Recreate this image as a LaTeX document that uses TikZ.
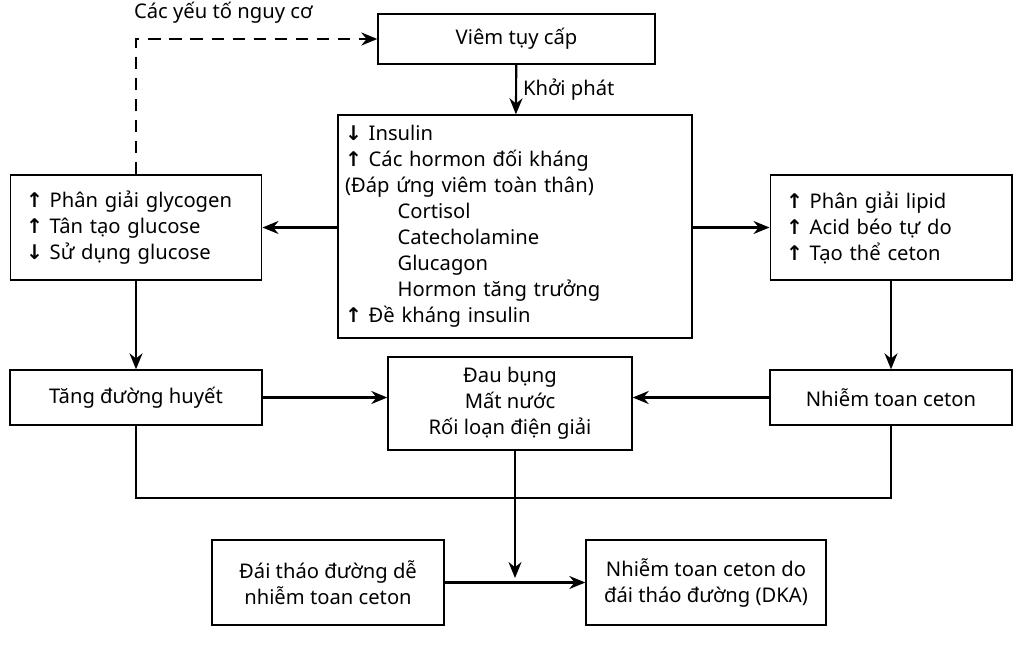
\documentclass[tikz,border=0pt]{standalone}
\usepackage{fontspec}
\setmainfont{Noto Sans}
\newfontfamily\muiten{DejaVu Sans}
\usetikzlibrary{arrows.meta,positioning}
\newcommand{\len}{{\muiten\bfseries ↑}\ }
\newcommand{\xuong}{{\muiten\bfseries ↓}\ }
\newcommand{\thut}{\hspace*{2.6em}}
\tikzset{
	hop/.style={draw,thick,minimum height=#1,inner sep=4pt,font=\fontsize{11.5}{14.8}\selectfont},
	hop/.default=0.9cm,
	muiTen/.style={-{Stealth[length=3.2mm,width=2.6mm]},line width=1.2pt},
	duong/.style={line width=1.2pt}
}
\begin{document}
\begin{tikzpicture}[x=0.02cm,y=-0.02cm]
	\useasboundingbox (0,0) rectangle (1024,646);
	% hàng trên
	\node[hop=1cm,minimum width=5.54cm] (viem) at (516.5,39) {Viêm tụy cấp};
	\node[hop,text width=6.8cm,minimum height=4.46cm,align=left] (trungTam) at (515,226.5)
	{\xuong Insulin\\ \len Các hormon đối kháng\\ (Đáp ứng viêm toàn thân)\\
	\thut Cortisol\\ \thut Catecholamine\\ \thut Glucagon\\ \thut Hormon tăng trưởng\\
	\len Đề kháng insulin};
	\node[hop,text width=4.4cm,minimum height=2.1cm,align=left,inner xsep=9pt] (trai) at (136,227.5)
	{\len Phân giải glycogen\\ \len Tân tạo glucose\\ \xuong Sử dụng glucose};
	\node[hop,text width=4.2cm,minimum height=2.1cm,align=left,inner xsep=9pt] (phai) at (891,227.5)
	{\len Phân giải lipid\\ \len Acid béo tự do\\ \len Tạo thể ceton};
	% hàng giữa
	\node[hop=1.1cm,minimum width=5.04cm] (tang) at (136,397.5) {Tăng đường huyết};
	\node[hop,minimum width=4.88cm,minimum height=1.86cm,align=center] (dau) at (510,403.5)
	{Đau bụng\\ Mất nước\\ Rối loạn điện giải};
	\node[hop=1.1cm,minimum width=4.84cm] (nhiem) at (891,397.5) {Nhiễm toan ceton};
	% hàng dưới
	\node[hop,minimum width=4.64cm,minimum height=1.7cm,align=center] (dtd) at (328,582.5)
	{Đái tháo đường dễ\\ nhiễm toan ceton};
	\node[hop,minimum width=4.8cm,minimum height=1.7cm,align=center] (dka) at (706,582.5)
	{Nhiễm toan ceton do\\ đái tháo đường (DKA)};
	% nối
	\draw[muiTen,dashed,dash pattern=on 7pt off 5pt] (trai.north) |- (viem.west)
	node[pos=0.5,anchor=south west,xshift=-5pt,yshift=5pt,font=\fontsize{11.5}{14}\selectfont]{Các yếu tố nguy cơ};
	\draw[muiTen] (viem) -- (trungTam) node[midway,right,font=\fontsize{11.5}{14}\selectfont]{Khởi phát};
	\draw[muiTen] (trungTam.west|-trai.east) -- (trai.east);
	\draw[muiTen] (trungTam.east|-phai.west) -- (phai.west);
	\draw[muiTen] (trai) -- (tang);
	\draw[muiTen] (phai) -- (nhiem);
	\draw[muiTen] (tang.east) -- (dau.west|-tang.east);
	\draw[muiTen] (nhiem.west) -- (dau.east|-nhiem.west);
	\coordinate (gop) at (515,498);
	\draw[duong] (tang.south) |- (gop) -| (nhiem.south);
	\draw[muiTen] (dau.south-|gop) -- (515,578);
	\draw[muiTen] (dtd) -- (dka);
\end{tikzpicture}
\end{document}
